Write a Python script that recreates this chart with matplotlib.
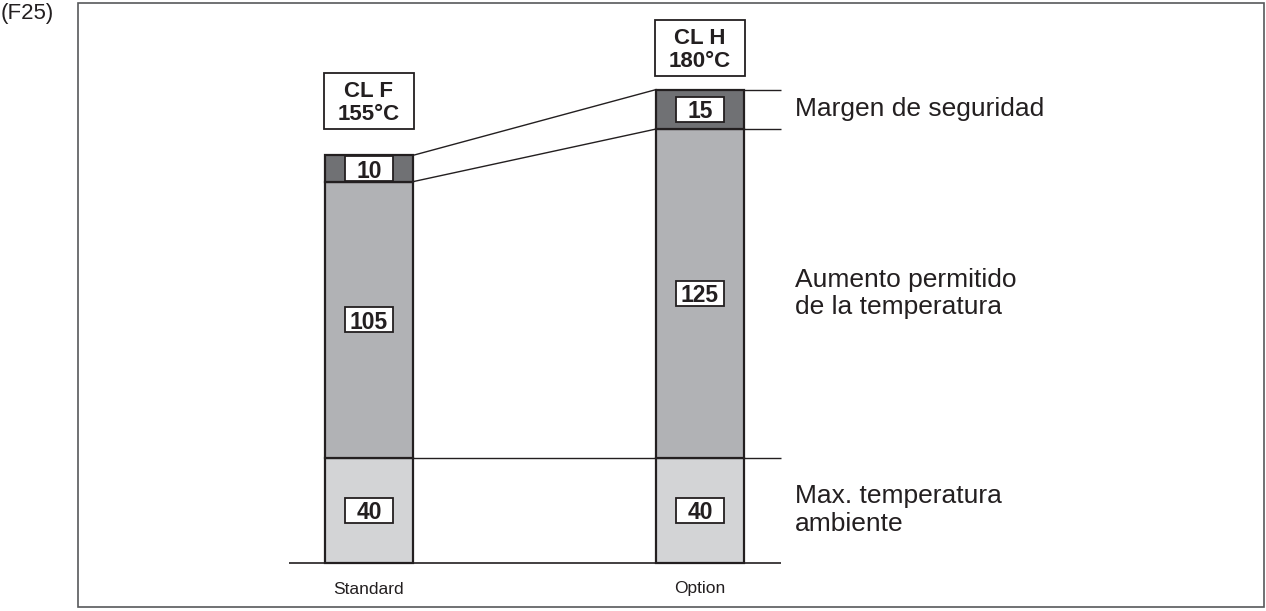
import matplotlib
matplotlib.use('Agg')
import matplotlib.pyplot as plt
from matplotlib.patches import Rectangle

plt.rcParams['font.family'] = ['Liberation Sans', 'DejaVu Sans']

categories = ['Standard', 'Option']
ambient = [40, 40]
rise = [105, 125]
margin = [10, 15]
class_names = ['CL F', 'CL H']
class_temps = ['155°C', '180°C']
segment_names = ['Max. temperatura\nambiente',
                 'Aumento permitido\nde la temperatura',
                 'Margen de seguridad']

# pixel layout of the schematic (1266 x 611 canvas)
X0, XSTEP = 369, 331      # pixel x of first bar centre, px between bars
Y0, YSTEP = 563, 2.63     # pixel y of 0 degC, px per degC


def dx(px):
    return (px - X0) / XSTEP


def dy(py):
    return (Y0 - py) / YSTEP


LINE = '#231f20'
C_LIGHT = '#d3d4d6'
C_MID = '#b1b2b5'
C_DARK = '#707174'

fig = plt.figure(figsize=(12.66, 6.11), dpi=100)
ax = fig.add_axes([0, 0, 1, 1])
ax.set_xlim(dx(0), dx(1266))
ax.set_ylim(dy(611), dy(0))
ax.axis('off')

x = list(range(len(categories)))
w = 88 / XSTEP
bottom_rise = ambient
bottom_margin = [a + r for a, r in zip(ambient, rise)]
tops = [b + m for b, m in zip(bottom_margin, margin)]

# guide lines behind the bars
right_end = dx(781)
ax.hlines(0, dx(289), right_end, color=LINE, lw=1.2, zorder=1)
ax.hlines(ambient[0], x[0] + w / 2, right_end, color=LINE, lw=1.0, zorder=1)
ax.hlines([bottom_margin[1], tops[1]], x[1] + w / 2, right_end,
          color=LINE, lw=1.0, zorder=1)
ax.plot([x[0] + w / 2, x[1] - w / 2], [tops[0], tops[1]], color=LINE, lw=1.0, zorder=1)
ax.plot([x[0] + w / 2, x[1] - w / 2], [bottom_margin[0], bottom_margin[1]],
        color=LINE, lw=1.0, zorder=1)

kw = dict(width=w, edgecolor=LINE, linewidth=1.6, zorder=2)
ax.bar(x, ambient, color=C_LIGHT, **kw)
ax.bar(x, rise, bottom=bottom_rise, color=C_MID, **kw)
ax.bar(x, margin, bottom=bottom_margin, color=C_DARK, **kw)

# value boxes in each segment
bw, bh = 48 / XSTEP, 25 / YSTEP
for i in x:
    for b, h in [(0, ambient[i]), (bottom_rise[i], rise[i]), (bottom_margin[i], margin[i])]:
        cy = b + h / 2
        ax.add_patch(Rectangle((i - bw / 2, cy - bh / 2), bw, bh, facecolor='white',
                               edgecolor=LINE, lw=1.3, zorder=3))
        ax.text(i, cy, str(h), ha='center', va='center_baseline', fontsize=16.5,
                fontweight='bold', color=LINE, zorder=4)

# class headers
header_px = [(73, 129), (20, 76)]
for i, (t, b) in zip(x, header_px):
    hw = 90 / XSTEP
    ax.add_patch(Rectangle((i - hw / 2, dy(b)), hw, dy(t) - dy(b), facecolor='white',
                           edgecolor=LINE, lw=1.3, zorder=3, clip_on=False))
    ax.text(i, dy(t + 16), class_names[i], ha='center', va='center_baseline',
            fontsize=16, fontweight='bold', color=LINE, zorder=4)
    ax.text(i, dy(t + 39), class_temps[i], ha='center', va='center_baseline',
            fontsize=16, fontweight='bold', color=LINE, zorder=4)

# right-hand segment names, aligned on the Option bar segments
seg_centres = [ambient[1] / 2, bottom_rise[1] + rise[1] / 2, bottom_margin[1] + margin[1] / 2]
for name, cy in zip(segment_names, seg_centres):
    ax.text(dx(795), cy, name, ha='left', va='center', fontsize=19,
            linespacing=1.2, color=LINE)

for i, c in zip(x, categories):
    ax.text(i, dy(589), c, ha='center', va='center', fontsize=12.5, color=LINE)

ax.text(dx(1), dy(14), '(F25)', ha='left', va='center', fontsize=16, color=LINE)

ax.add_patch(Rectangle((dx(78), dy(607)), dx(1264) - dx(78), dy(3) - dy(607),
                       fill=False, edgecolor='#58595b', lw=1.2, clip_on=False))

fig.savefig('out.png', dpi=100)
